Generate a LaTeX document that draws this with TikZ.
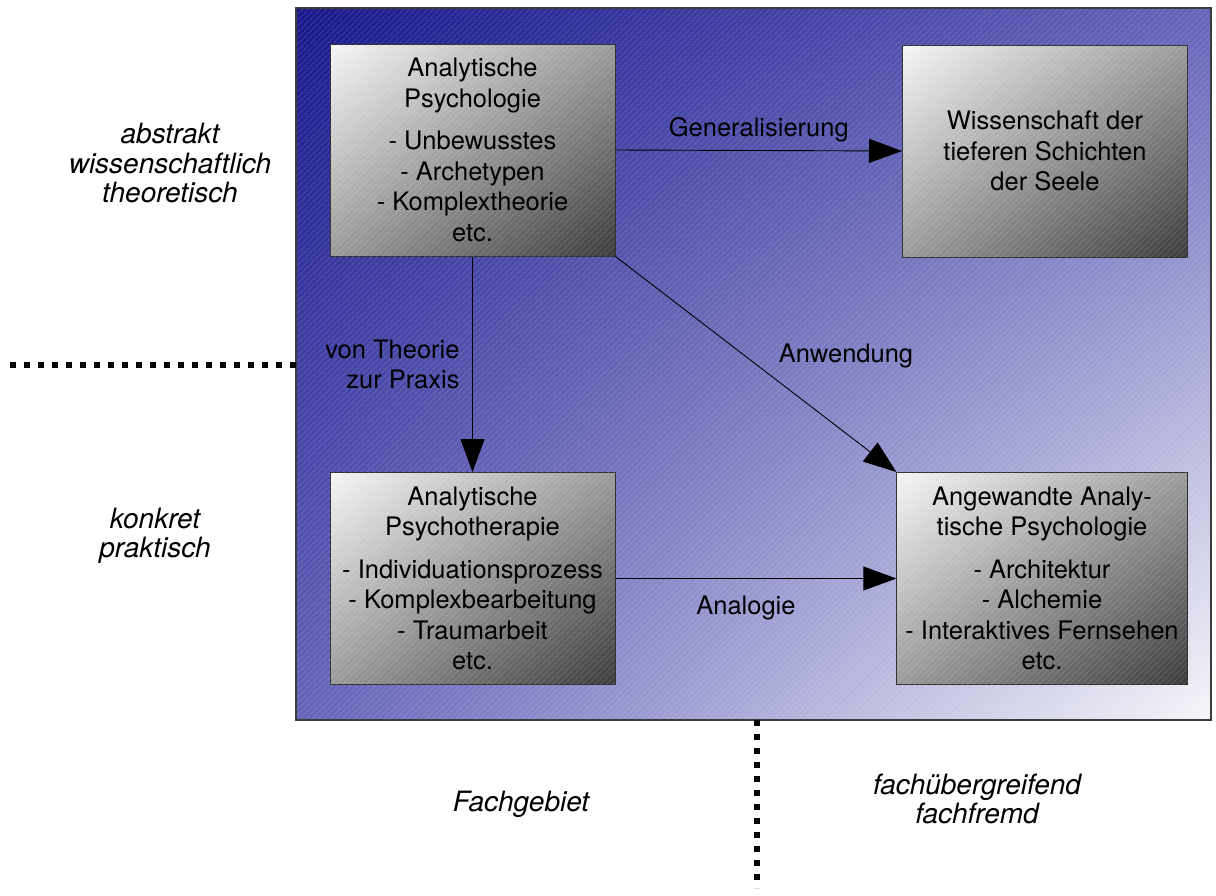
\documentclass[tikz,border=0pt]{standalone}
\usepackage{fontspec}
\setmainfont{TeX Gyre Heros}
\usetikzlibrary{arrows.meta,patterns.meta,shadings}

\definecolor{blaudunkel}{RGB}{24,24,140}
\definecolor{blaumitte}{RGB}{100,100,186}
\definecolor{blauhell}{RGB}{246,246,250}
\definecolor{grauhell}{RGB}{246,246,246}
\definecolor{graumitte}{RGB}{155,155,155}
\definecolor{graudunkel}{RGB}{60,60,60}

\tikzset{
  kasten/.style={draw=graudunkel!80!black, line width=1pt,
    minimum width=285pt, minimum height=212pt, align=center,
    upper left=grauhell, lower right=graudunkel,
    upper right=graumitte, lower left=graumitte,
    postaction={pattern={Lines[angle=45,distance=4pt,line width=.6pt]},
      pattern color=white, fill opacity=.25}},
  pfeil/.style={-{Triangle[length=33pt,width=24pt]}, line width=.9pt},
  trenn/.style={line width=6pt, dash pattern=on 6pt off 8pt},
  seite/.style={align=center, font=\fontsize{28}{29.5}\selectfont\itshape}
}

\begin{document}
\begin{tikzpicture}
  \useasboundingbox (0pt,0pt) rectangle (1216pt,-895pt);
  \fontsize{25.5}{30.5}\selectfont

  % Hintergrund
  \shade[upper left=blaudunkel, lower right=blauhell,
    upper right=blaumitte, lower left=blaumitte]
    (296pt,-8pt) rectangle (1211pt,-720pt);
  \fill[pattern={Lines[angle=45,distance=4pt,line width=.6pt]},
    pattern color=white, fill opacity=.25]
    (296pt,-8pt) rectangle (1211pt,-720pt);
  \draw[graudunkel, line width=1.5pt] (296pt,-8pt) rectangle (1211pt,-720pt);

  % Trennlinien
  \draw[trenn] (10pt,-365pt) -- (296pt,-365pt);
  \draw[trenn] (757pt,-720pt) -- (757pt,-888pt);

  % Kaesten
  \node[kasten] (ap) at (472.5pt,-150pt)
    {Analytische\\Psychologie\\[12pt]- Unbewusstes\\- Archetypen\\- Komplextheorie\\etc.};
  \node[kasten] (wiss) at (1045pt,-151pt)
    {Wissenschaft der\\tieferen Schichten\\der Seele};
  \node[kasten] (therapie) at (472.5pt,-578.5pt)
    {Analytische\\Psychotherapie\\[12pt]- Individuationsprozess\\- Komplexbearbeitung\\- Traumarbeit\\etc.};
  \node[kasten] (angewandt) at (1042pt,-578.5pt)
    {Angewandte Analy-\\tische Psychologie\\[12pt]- Architektur\\- Alchemie\\- Interaktives Fernsehen\\etc.};

  % Pfeile
  \draw[pfeil] (ap.east) -- (wiss.west)
    node[midway, above=-1pt]{Generalisierung};
  \draw[pfeil] (ap.south) -- (therapie.north)
    node[midway, left=4pt, align=right]{von Theorie\\zur Praxis};
  \draw[pfeil] (ap.south east) -- (angewandt.north west)
    node[midway, anchor=west, xshift=14pt, yshift=8pt]{Anwendung};
  \draw[pfeil] (therapie.east) -- (angewandt.west)
    node[midway, below=8pt, xshift=-10pt]{Analogie};

  % Achsen
  \node[seite] (abstrakt) at (170pt,-163pt)
    {abstrakt\\wissenschaftlich\\theoretisch};
  \node[seite] (konkret) at (155pt,-536pt) {konkret\\praktisch};
  \node[seite] (fach) at (521pt,-804pt) {Fachgebiet};
  \node[seite] (fremd) at (977pt,-799pt) {fachübergreifend\\fachfremd};

\end{tikzpicture}
\end{document}
